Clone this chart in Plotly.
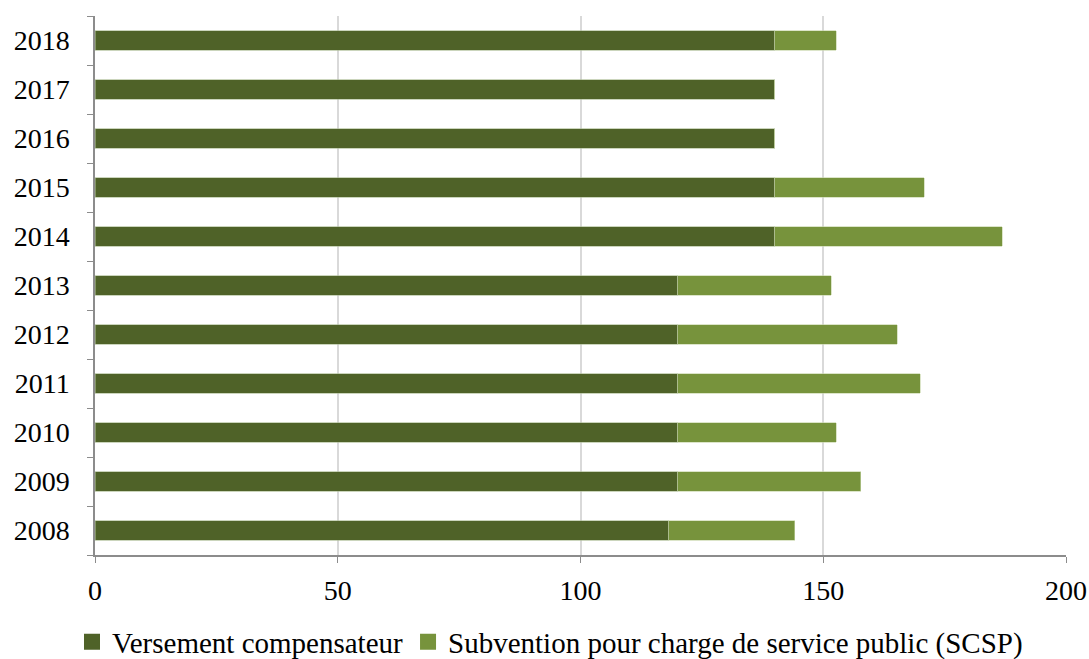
import plotly.graph_objects as go

years = ["2008", "2009", "2010", "2011", "2012", "2013", "2014", "2015", "2016", "2017", "2018"]
versement = [118.2, 120, 120, 120, 120, 120, 140, 140, 140, 140, 140]
scsp = [25.9, 37.7, 32.7, 50.0, 45.2, 31.6, 46.9, 30.8, 0, 0, 12.7]
x_ticks = [0, 50, 100, 150, 200]
names = ["Versement compensateur", "Subvention pour charge de service public (SCSP)"]
colors = ["#4F6228", "#77933C"]

FONT = "Liberation Serif"
fig = go.Figure()
fig.add_trace(go.Bar(y=years, x=versement, orientation="h", name=names[0], showlegend=False,
                     marker=dict(color=colors[0], line=dict(color="#A9B98F", width=0.6))))
fig.add_trace(go.Bar(y=years, x=scsp, orientation="h", name=names[1], showlegend=False,
                     marker=dict(color=colors[1], line=dict(color="#C4D3A5", width=0.6))))
for n, c in zip(names, colors):
    fig.add_trace(go.Scatter(x=[None], y=[None], mode="markers", name=n,
                             marker=dict(symbol="square", size=16, color=c)))

fig.update_layout(
    barmode="stack", bargap=0.6,
    width=1089, height=659,
    margin=dict(l=95, r=23, t=16, b=104),
    paper_bgcolor="white", plot_bgcolor="white",
    font=dict(family=FONT, size=28, color="black"),
    legend=dict(orientation="h", x=72 / 1089, xanchor="left", xref="container",
                y=(659 - 642) / 659, yanchor="middle", yref="container",
                font=dict(size=29), itemsizing="trace", traceorder="normal"),
    xaxis=dict(range=[0, 200], tickvals=x_ticks, showgrid=True, gridcolor="#D9D9D9", gridwidth=1.5,
               showline=True, linecolor="#8C8C8C", linewidth=1.5, ticks="outside", ticklen=6,
               tickcolor="#8C8C8C", zeroline=False, ticklabelstandoff=4, automargin=False),
    yaxis=dict(categoryorder="array", categoryarray=years, showline=True, linecolor="#8C8C8C",
               linewidth=1.5, ticks="outside", ticklen=6, tickcolor="#8C8C8C", tickson="boundaries",
               ticklabelstandoff=18, showgrid=False, automargin=False),
)
fig.write_html("out.html", config={"displayModeBar": False},
               post_script="document.body.style.margin='0';")
